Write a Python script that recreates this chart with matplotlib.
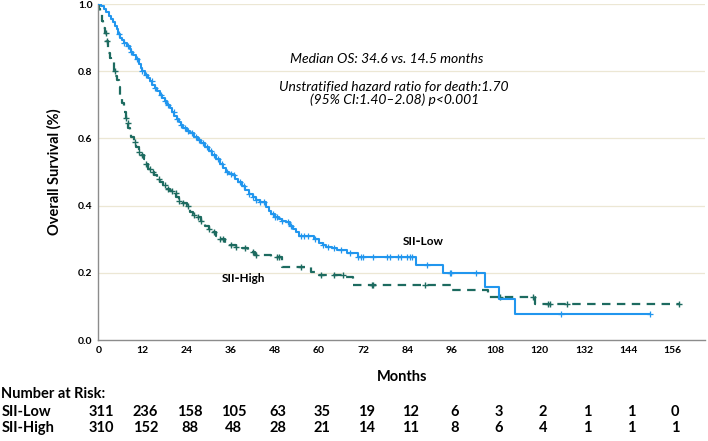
import matplotlib
matplotlib.use("Agg")
import matplotlib.pyplot as plt
import matplotlib.transforms as mtransforms
import numpy as np

# Kaplan-Meier step points (months, survival)
low_t = [0, 0.8, 1.5, 2.2, 3, 3.5, 4, 4.5, 5, 5.4, 5.8, 6.5, 7, 7.8, 8.5, 9, 9.5, 10.2, 11,
         11.5, 12, 12.7, 13.4, 14, 14.7, 15.4, 16, 16.7, 17.4, 18, 18.7, 19.4, 20, 20.7,
         21.4, 22, 22.5, 23, 24, 25, 26, 27, 28, 29, 30, 31, 32, 33, 33.8, 34.6, 35.5, 36.5,
         37.2, 38, 39, 40, 41, 42, 43, 44, 45.5, 46.3, 47, 48, 49, 50, 51, 52, 53, 53.8,
         54.5, 58.6, 60, 61, 62, 63.5, 65, 67.5, 70.5, 86.4, 93.6, 105.2, 108.8, 113.4, 150]
low_s = [1.0, 0.993, 0.985, 0.975, 0.965, 0.955, 0.945, 0.935, 0.925, 0.912, 0.90, 0.893,
         0.885, 0.875, 0.865, 0.857, 0.848, 0.835, 0.82, 0.81, 0.80, 0.79, 0.78, 0.77, 0.76,
         0.75, 0.74, 0.73, 0.72, 0.71, 0.70, 0.69, 0.68, 0.668, 0.658, 0.65, 0.64, 0.63,
         0.622, 0.615, 0.605, 0.595, 0.585, 0.575, 0.563, 0.55, 0.538, 0.525, 0.512, 0.50,
         0.495, 0.49, 0.48, 0.47, 0.458, 0.445, 0.435, 0.425, 0.418, 0.41, 0.397, 0.385,
         0.375, 0.367, 0.36, 0.355, 0.35, 0.34, 0.33, 0.32, 0.31, 0.30, 0.29, 0.284, 0.278,
         0.273, 0.268, 0.258, 0.246, 0.223, 0.20, 0.157, 0.121, 0.077, 0.077]

high_t = [0, 0.3, 0.5, 1, 1.4, 1.8, 2.2, 2.7, 3.1, 3.5, 4.2, 4.6, 5, 5.5, 6, 6.5, 7, 7.4,
          7.7, 8.1, 8.5, 9, 9.6, 10.3, 11, 11.7, 12.3, 12.9, 13.5, 14.5, 15.2, 15.9, 16.8,
          17.6, 18.5, 19.5, 20.5, 21.2, 22, 23, 24, 25, 25.8, 26.7, 27.8, 29, 30, 30.9, 32,
          33, 34.5, 35.9, 37.5, 39.1, 40.8, 42.5, 47, 50, 57.7, 60, 66.8, 69.1, 95.9, 105.9,
          118.6, 157.9]
high_s = [1.0, 0.985, 0.97, 0.95, 0.93, 0.913, 0.89, 0.853, 0.84, 0.83, 0.80, 0.787, 0.774,
          0.752, 0.73, 0.705, 0.68, 0.66, 0.645, 0.632, 0.62, 0.605, 0.59, 0.575, 0.56, 0.55,
          0.54, 0.525, 0.51, 0.50, 0.49, 0.48, 0.471, 0.46, 0.45, 0.443, 0.437, 0.425, 0.415,
          0.407, 0.40, 0.38, 0.373, 0.367, 0.353, 0.34, 0.33, 0.322, 0.31, 0.30, 0.29, 0.283,
          0.278, 0.273, 0.263, 0.253, 0.248, 0.218, 0.203, 0.193, 0.188, 0.164, 0.149, 0.129,
          0.107, 0.107]

# censored observations (months)
low_cens = [5.5, 7, 8, 9, 10.5, 12, 13, 14.5, 15.5, 17, 18, 19, 20.5, 21.5, 22.5, 23.5, 24.5,
            25.5, 26.5, 27.5, 28.5, 29.5, 30.5, 31.5, 32.5, 33.5, 35, 36, 37, 38.5, 39.5, 41,
            42, 43, 44, 45, 47.5, 48, 48.5, 50, 51.5, 52.5, 55, 56, 57, 59, 61, 62.5, 64, 66,
            68.5, 70.7, 71.3, 72, 74.6, 78.4, 79.3, 81.5, 82.4, 83.8, 84.7, 85.2, 89.4, 95.6,
            96, 102.8, 125.9, 150]
high_cens = [2, 2.5, 4.5, 7.5, 8, 10, 11, 12, 13, 14, 15, 16.5, 18, 19, 20, 21, 22, 23, 24.5,
             26, 27, 28, 30, 31.5, 33, 34, 36, 37.5, 40, 42, 43, 48.5, 49, 55, 60.5, 64, 66.6,
             74.3, 74.7, 88.8, 109.2, 118.2, 122.3, 122.7, 127.3, 157.9]

ticks = [0, 12, 24, 36, 48, 60, 72, 84, 96, 108, 120, 132, 144, 156]
risk_low = [311, 236, 158, 105, 63, 35, 19, 12, 6, 3, 2, 1, 1, 0]
risk_high = [310, 152, 88, 48, 28, 21, 14, 11, 8, 6, 4, 1, 1, 1]

blue = "#2196ee"
green = "#1d6b60"

plt.rcParams["font.family"] = ["Lato", "DejaVu Sans"]

fig = plt.figure(figsize=(7.08, 4.41), dpi=100)
ax = fig.add_axes([98.3 / 708, 1 - 340 / 441, 607 / 708, 336 / 441])


def surv_at(times, surv, x):
    idx = np.searchsorted(times, x, side="right") - 1
    return np.array(surv)[idx]


for y in [0.2, 0.4, 0.6, 0.8, 1.0]:
    ax.axhline(y, color="#ece7d4", lw=0.9, zorder=0)

ax.plot(low_t, low_s, drawstyle="steps-post", color=blue, lw=1.5, zorder=3)
ax.plot(high_t, high_s, drawstyle="steps-post", color=green, lw=1.6,
        linestyle=(0, (3.8, 2.9)), zorder=2)
ax.plot(low_cens, surv_at(low_t, low_s, low_cens), "+", color=blue, ms=5, mew=0.9, zorder=3)
ax.plot(high_cens, surv_at(high_t, high_s, high_cens), "+", color=green, ms=5, mew=1.0, zorder=2)

ax.set_xlim(0, 165)
ax.set_ylim(0, 1.0)
ax.set_xticks(ticks)
ax.set_yticks([0.0, 0.2, 0.4, 0.6, 0.8, 1.0])
ax.set_yticklabels(["0.0", "0.2", "0.4", "0.6", "0.8", "1.0"])
ax.tick_params(axis="x", length=0, labelsize=7.5, pad=4)
ax.tick_params(axis="y", length=0, labelsize=7.5, pad=4)
for lab in ax.get_xticklabels() + ax.get_yticklabels():
    lab.set_fontweight("bold")
for side in ["top", "right"]:
    ax.spines[side].set_visible(False)
for side in ["left", "bottom"]:
    ax.spines[side].set_color("#8c8c8c")
    ax.spines[side].set_linewidth(1.0)

ax.set_ylabel("Overall Survival (%)", fontsize=10.5, fontweight="bold")
ax.yaxis.set_label_coords(-0.06, 0.5)
ax.text(0.5, -0.11, "Months", transform=ax.transAxes, ha="center", va="center",
        fontsize=10.5, fontweight="bold")

ax.text(78.4, 0.835, "Median OS: 34.6 vs. 14.5 months", ha="center", va="center",
        fontsize=10, style="italic")
ax.text(80.4, 0.754, "Unstratified hazard ratio for death:1.70", ha="center", va="center",
        fontsize=10, style="italic")
ax.text(80.4, 0.714, "(95% CI:1.40\u20132.08) p<0.001", ha="center", va="center",
        fontsize=10, style="italic")

ax.text(88.4, 0.293, "SII\u2011Low", ha="center", va="center", fontsize=8.5, fontweight="bold")
ax.text(39.4, 0.184, "SII\u2011High", ha="center", va="center", fontsize=8.5, fontweight="bold")

# number at risk table
trans = mtransforms.blended_transform_factory(ax.transData, fig.transFigure)
trans = mtransforms.offset_copy(trans, fig=fig, x=3, y=0, units="dots")
fig.text(0.002, 1 - 394 / 441, "Number at Risk:", ha="left", va="center",
         fontsize=10.5, fontweight="bold")
for row_y, name, vals in [(1 - 411.7 / 441, "SII-Low", risk_low),
                          (1 - 428.3 / 441, "SII-High", risk_high)]:
    fig.text(0.002, row_y, name, ha="left", va="center", fontsize=10.5, fontweight="bold")
    for t, v in zip(ticks, vals):
        ax.text(t, row_y, str(v), transform=trans, ha="center", va="center",
                fontsize=10.5, fontweight="bold", clip_on=False)

fig.savefig("out.png", dpi=100)
